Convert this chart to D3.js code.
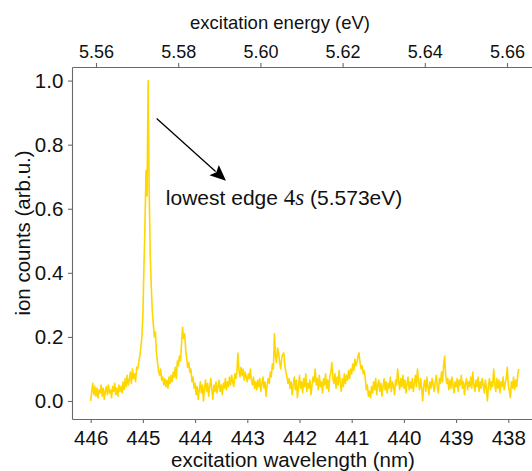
<!DOCTYPE html>
<html><head><meta charset="utf-8">
<script src="https://cdn.jsdelivr.net/npm/d3@7"></script>
<style>
html,body{margin:0;padding:0;background:#fff;}
svg{display:block;font-family:"Liberation Sans",Arial,Helvetica,sans-serif;}
</style></head><body>
<svg id="chart" width="532" height="471"></svg>
<script>
// ---- data ----
const wavelengthStart = 446.0;   // nm, first sample
const wavelengthStep = 0.02;     // nm between samples (decreasing wavelength)
const ionCounts = [
0.000,0.030,0.055,0.020,0.045,0.015,0.040,0.010,0.035,0.025,
0.050,0.015,0.040,0.005,0.030,0.045,0.020,0.050,0.025,0.035,
0.010,0.045,0.030,0.055,0.020,0.040,0.015,0.050,0.030,0.045,
0.025,0.060,0.035,0.070,0.045,0.080,0.050,0.065,0.090,0.055,
0.100,0.070,0.085,0.060,0.105,0.100,0.120,0.140,0.165,0.200,
0.270,0.420,0.550,0.720,0.640,1.000,0.660,0.460,0.360,0.280,
0.240,0.200,0.215,0.150,0.120,0.095,0.080,0.100,0.065,0.075,
0.050,0.070,0.045,0.065,0.040,0.075,0.055,0.080,0.060,0.090,
0.075,0.105,0.070,0.125,0.110,0.140,0.125,0.180,0.230,0.195,
0.210,0.160,0.130,0.105,0.120,0.090,0.100,0.060,0.075,0.040,
0.055,0.020,0.045,0.005,0.035,0.060,0.025,0.050,0.000,0.040,
0.065,0.030,0.055,0.015,0.045,0.070,0.035,0.005,0.050,0.030,
0.060,0.025,0.045,0.065,0.030,0.050,0.020,0.055,0.040,0.070,
0.035,0.060,0.045,0.075,0.050,0.080,0.060,0.045,0.085,0.070,
0.090,0.150,0.095,0.075,0.105,0.080,0.100,0.065,0.090,0.075,
0.060,0.085,0.070,0.100,0.065,0.050,0.075,0.040,0.060,0.035,
0.065,0.045,0.070,0.030,0.055,0.075,0.040,0.060,0.015,0.050,
0.070,0.055,0.090,0.075,0.115,0.100,0.210,0.140,0.120,0.165,
0.150,0.120,0.100,0.135,0.145,0.150,0.110,0.090,0.075,0.055,
0.070,0.040,0.060,0.020,0.050,0.075,0.035,0.065,0.010,0.045,
0.080,0.040,0.060,0.025,0.070,0.045,0.085,0.030,0.055,0.040,
0.065,0.020,0.050,0.075,0.060,0.100,0.050,0.070,0.035,0.080,
0.045,0.060,0.025,0.070,0.050,0.085,0.040,0.065,0.030,0.075,
0.090,0.120,0.070,0.055,0.085,0.040,0.075,0.050,0.095,0.060,
0.030,0.070,0.045,0.085,0.055,0.080,0.065,0.095,0.070,0.100,
0.085,0.115,0.095,0.130,0.110,0.120,0.140,0.150,0.120,0.100,
0.110,0.085,0.095,0.070,0.035,0.050,0.015,0.030,0.010,0.045,
0.025,0.060,0.035,0.070,0.020,0.050,0.065,0.030,0.055,0.015,
0.045,0.070,0.035,0.060,0.025,0.055,0.040,0.075,0.030,0.060,
0.045,0.020,0.065,0.050,0.100,0.060,0.035,0.070,0.045,0.080,
0.040,0.065,0.025,0.055,0.075,0.035,0.060,0.040,0.070,0.030,
0.055,0.080,0.045,0.100,0.060,0.035,0.070,0.040,0.000,0.050,
0.065,0.030,0.075,0.045,0.020,0.060,0.040,0.070,0.050,0.030,
0.060,0.080,0.045,0.025,0.070,0.055,0.090,0.060,0.110,0.140,
0.080,0.055,0.070,0.035,0.065,0.040,0.075,0.050,0.025,0.060,
0.045,0.070,0.030,0.065,0.050,0.080,0.040,0.060,0.020,0.055,
0.070,0.035,0.060,0.045,0.075,0.040,0.090,0.050,0.030,0.065,
0.045,0.075,0.030,0.060,0.040,0.070,0.050,0.025,0.065,0.040,
0.000,0.050,0.070,0.035,0.060,0.045,0.100,0.055,0.030,0.070,
0.040,0.065,0.025,0.060,0.045,0.075,0.035,0.055,0.070,0.105,
0.050,0.030,0.010,0.060,0.040,0.075,0.035,0.065,0.045,0.080,
0.100
];
const wavelengthTicks = [446,445,444,443,442,441,440,439,438];
const energyTicks = [5.56,5.58,5.60,5.62,5.64,5.66];
const countTicks = [0.0,0.2,0.4,0.6,0.8,1.0];
const xTitle = "excitation wavelength (nm)";
const topTitle = "excitation energy (eV)";
const yTitle = "ion counts (arb.u.)";
// annotation, in data coordinates (wavelength nm, counts)
const annotText = ["lowest edge ", "4", "s", " (5.573eV)"];
const annotTextAt = [444.56, 0.6115];
const arrowFrom = [444.736, 0.882];
const arrowTo = [443.408, 0.687];

// ---- drawing ----
const svg = d3.select("#chart");
const x = d3.scaleLinear().domain([446.358, 437.546]).range([72, 532]);
const xTop = d3.scaleLinear().domain([5.55416, 5.66608]).range([72, 532]);
const y = d3.scaleLinear().domain([-0.0562, 1.0424]).range([419, 67]);

const axisColor = "#6a6a6a";
function styleAxis(g, size){
  g.attr("font-family", null).attr("font-size", null);
  g.selectAll(".domain").attr("stroke", axisColor).attr("stroke-width", 1.1);
  g.selectAll(".tick line").attr("stroke", axisColor).attr("stroke-width", 1.1);
  g.selectAll(".tick text").attr("fill", "#111").style("font-size", size + "px");
}

svg.append("g").attr("transform", "translate(0,419)")
  .call(d3.axisBottom(x).tickValues(wavelengthTicks).tickFormat(d3.format("d"))
    .tickSize(4).tickSizeOuter(0).tickPadding(7))
  .call(g => styleAxis(g, 20.5));

svg.append("g").attr("transform", "translate(0,67)")
  .call(d3.axisTop(xTop).tickValues(energyTicks).tickFormat(d3.format(".2f"))
    .tickSize(4).tickSizeOuter(0).tickPadding(5.3))
  .call(g => styleAxis(g, 18));

svg.append("g").attr("transform", "translate(72,0)")
  .call(d3.axisLeft(y).tickValues(countTicks).tickFormat(d3.format(".1f"))
    .tickSize(4).tickSizeOuter(0).tickPadding(4.7))
  .call(g => styleAxis(g, 20.5));

// titles
svg.append("text").attr("x", 293).attr("y", 466.5).attr("text-anchor", "middle")
  .style("font-size", "20.5px").attr("fill", "#111").text(xTitle);
svg.append("text").attr("x", 280).attr("y", 29).attr("text-anchor", "middle")
  .style("font-size", "18.5px").attr("fill", "#111").text(topTitle);
svg.append("text").attr("transform", "translate(30,233) rotate(-90)")
  .attr("text-anchor", "middle").style("font-size", "20.5px").attr("fill", "#111").text(yTitle);

// spectrum
const line = d3.line()
  .x((d, i) => x(wavelengthStart - i * wavelengthStep))
  .y(d => y(d));
svg.append("path").datum(ionCounts)
  .attr("d", line).attr("fill", "none")
  .attr("stroke", "#FFD700").attr("stroke-width", 1.6)
  .attr("stroke-linejoin", "round");

// arrow
const x0 = x(arrowFrom[0]), y0 = y(arrowFrom[1]);
const x1 = x(arrowTo[0]), y1 = y(arrowTo[1]);
const dx = x1 - x0, dy = y1 - y0, L = Math.hypot(dx, dy);
const ux = dx / L, uy = dy / L, headLen = 16, headHalf = 7;
const bx = x1 - ux * headLen, by = y1 - uy * headLen;
svg.append("line").attr("x1", x0).attr("y1", y0).attr("x2", bx + ux * 2).attr("y2", by + uy * 2)
  .attr("stroke", "#000").attr("stroke-width", 1.3);
svg.append("path")
  .attr("d", `M${x1},${y1}L${bx - uy * headHalf},${by + ux * headHalf}L${bx + ux * 3},${by + uy * 3}L${bx + uy * headHalf},${by - ux * headHalf}Z`)
  .attr("fill", "#000");

// annotation text
const serif = "'Liberation Serif','DejaVu Serif','Times New Roman',serif";
const t = svg.append("text").attr("x", x(annotTextAt[0])).attr("y", y(annotTextAt[1]))
  .style("font-size", "21px").attr("fill", "#111");
t.append("tspan").text(annotText[0]);
t.append("tspan").attr("font-family", serif).style("font-family", serif).style("font-size", "23px").text(annotText[1]);
t.append("tspan").attr("font-family", serif).style("font-family", serif).style("font-size", "23px").style("font-style", "italic").text(annotText[2]);
t.append("tspan").text(annotText[3]);
</script>
</body></html>
